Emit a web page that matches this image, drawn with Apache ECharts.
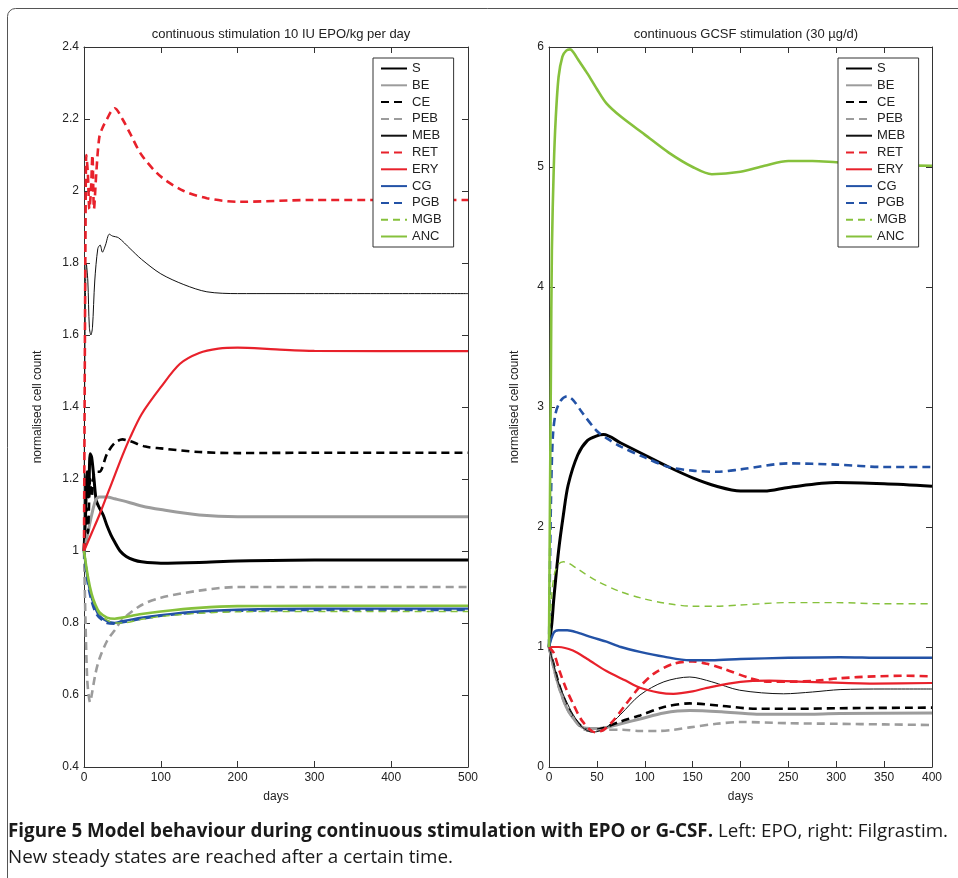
<!DOCTYPE html>
<html>
<head>
<meta charset="utf-8">
<script src="https://cdn.jsdelivr.net/npm/echarts@6/dist/echarts.min.js"></script>
<style>
html,body{margin:0;padding:0;background:#fff;}
#c{width:958px;height:878px;}
</style>
</head>
<body>
<div id="c"></div>
<script>
// ---------- DATA: left plot (EPO, days 0-500) ----------
const names = ['S','BE','CE','PEB','MEB','RET','ERY','CG','PGB','MGB','ANC'];
const epoTitle = 'continuous stimulation 10 IU EPO/kg per day';
const gcsfTitle = 'continuous GCSF stimulation (30 \u00b5g/d)';
const yName = 'normalised cell count';
const xName = 'days';

const EPO_S   = [[0,1.0],[2,1.1],[4,1.22],[6,1.15],[8,1.27],[10,1.26],[13,1.2],[16,1.14],[20,1.12],[25,1.1],[30,1.07],[35,1.045],[40,1.025],[47,1.0],[55,0.985],[65,0.975],[75,0.97],[100,0.966],[150,0.968],[200,0.972],[300,0.975],[500,0.975]];
const EPO_BE  = [[0,1.0],[5,1.05],[10,1.1],[15,1.14],[20,1.15],[30,1.15],[40,1.145],[50,1.14],[75,1.125],[100,1.115],[150,1.1],[200,1.095],[300,1.095],[500,1.095]];
const EPO_CE  = [[0,1.0],[3,1.12],[5,1.05],[8,1.2],[10,1.15],[14,1.22],[20,1.22],[30,1.27],[40,1.3],[50,1.31],[60,1.305],[80,1.29],[100,1.285],[150,1.275],[200,1.272],[300,1.273],[500,1.273]];
const EPO_PEB = [[0,1.0],[2,0.8],[4,0.65],[6,0.6],[8,0.58],[10,0.6],[15,0.66],[20,0.7],[30,0.75],[40,0.78],[50,0.81],[75,0.85],[100,0.87],[150,0.89],[200,0.9],[300,0.9],[500,0.9]];
const EPO_MEB = [[0,1.0],[1,1.5],[3,1.8],[5,1.75],[7,1.62],[9,1.6],[11,1.62],[14,1.75],[18,1.84],[21,1.85],[24,1.83],[28,1.85],[33,1.88],[37,1.875],[45,1.87],[60,1.84],[75,1.81],[100,1.77],[130,1.74],[160,1.72],[200,1.715],[300,1.715],[500,1.715]];
const EPO_RET = [[0,1.0],[1,1.5],[2,1.9],[3,2.1],[5,2.05],[7,1.95],[9,2.0],[11,2.1],[13,1.95],[16,2.05],[20,2.15],[25,2.18],[30,2.2],[35,2.22],[40,2.23],[50,2.2],[60,2.16],[75,2.1],[100,2.04],[130,2.0],[160,1.98],[200,1.97],[300,1.975],[500,1.975]];
const EPO_ERY = [[0,1.0],[10,1.05],[20,1.1],[30,1.155],[40,1.21],[50,1.265],[60,1.315],[75,1.38],[100,1.455],[125,1.52],[150,1.55],[175,1.562],[200,1.565],[250,1.56],[300,1.556],[500,1.555]];
const EPO_CG  = [[0,1.0],[5,0.92],[10,0.87],[15,0.84],[20,0.82],[30,0.805],[40,0.8],[50,0.805],[75,0.815],[100,0.822],[150,0.832],[200,0.837],[300,0.84],[500,0.84]];
const EPO_PGB = [[0,1.0],[5,0.91],[10,0.86],[15,0.83],[20,0.815],[30,0.8],[40,0.798],[50,0.802],[75,0.812],[100,0.82],[150,0.83],[200,0.834],[300,0.836],[500,0.836]];
const EPO_MGB = [[0,1.0],[5,0.925],[10,0.875],[15,0.845],[20,0.825],[30,0.808],[40,0.8],[50,0.8],[75,0.81],[100,0.818],[150,0.827],[200,0.831],[300,0.832],[500,0.832]];
const EPO_ANC = [[0,1.0],[5,0.93],[10,0.88],[15,0.85],[20,0.83],[30,0.815],[40,0.812],[50,0.815],[75,0.825],[100,0.832],[150,0.842],[200,0.847],[300,0.848],[500,0.848]];

// ---------- DATA: right plot (G-CSF, days 0-400) ----------
const GC_S   = [[0,1.0],[3,1.2],[5,1.4],[10,1.8],[15,2.1],[20,2.35],[30,2.6],[40,2.72],[50,2.76],[57,2.77],[75,2.7],[100,2.6],[125,2.5],[150,2.41],[175,2.34],[200,2.3],[225,2.3],[250,2.33],[300,2.37],[350,2.36],[400,2.34]];
const GC_BE  = [[0,1.0],[5,0.83],[10,0.68],[18,0.5],[25,0.41],[35,0.33],[46,0.32],[60,0.33],[75,0.36],[95,0.4],[120,0.45],[147,0.47],[180,0.46],[217,0.44],[260,0.44],[304,0.445],[400,0.45]];
const GC_CE  = [[0,1.0],[5,0.85],[10,0.7],[18,0.52],[25,0.42],[35,0.33],[43,0.3],[55,0.32],[75,0.38],[95,0.43],[120,0.5],[147,0.53],[180,0.51],[217,0.485],[260,0.485],[304,0.49],[400,0.495]];
const GC_PEB = [[0,1.0],[5,0.82],[10,0.67],[18,0.5],[25,0.41],[35,0.32],[48,0.3],[60,0.31],[77,0.31],[95,0.3],[113,0.3],[130,0.31],[147,0.33],[175,0.36],[199,0.375],[250,0.365],[300,0.36],[350,0.355],[400,0.35]];
const GC_MEB = [[0,1.0],[5,0.85],[10,0.7],[18,0.55],[25,0.44],[35,0.33],[46,0.29],[60,0.33],[75,0.44],[95,0.6],[120,0.71],[147,0.75],[170,0.71],[199,0.64],[245,0.61],[275,0.625],[304,0.645],[350,0.65],[400,0.65]];
const GC_RET = [[0,1.0],[5,0.95],[11,0.8],[18,0.65],[25,0.53],[35,0.38],[48,0.29],[57,0.31],[67,0.385],[80,0.52],[95,0.67],[110,0.78],[130,0.86],[150,0.88],[165,0.86],[182,0.82],[210,0.74],[230,0.71],[252,0.71],[280,0.72],[304,0.74],[340,0.755],[374,0.76],[400,0.755]];
const GC_ERY = [[0,1.0],[10,1.0],[25,0.97],[40,0.9],[60,0.8],[80,0.72],[95,0.66],[115,0.62],[130,0.61],[150,0.63],[165,0.66],[200,0.71],[230,0.72],[270,0.71],[339,0.695],[400,0.7]];
const GC_CG  = [[0,1.0],[5,1.12],[10,1.14],[19,1.14],[30,1.12],[45,1.08],[60,1.045],[75,1.0],[95,0.96],[120,0.92],[147,0.89],[170,0.89],[200,0.9],[250,0.91],[304,0.915],[350,0.91],[400,0.91]];
const GC_PGB = [[0,1.0],[2,2.2],[4,2.75],[7,2.95],[12,3.05],[19,3.09],[25,3.06],[35,2.95],[50,2.8],[60,2.74],[75,2.67],[100,2.58],[125,2.5],[150,2.47],[175,2.46],[200,2.48],[250,2.53],[300,2.52],[350,2.5],[400,2.5]];
const GC_MGB = [[0,1.0],[3,1.45],[6,1.62],[10,1.69],[15,1.71],[20,1.7],[30,1.65],[50,1.55],[75,1.46],[100,1.4],[125,1.36],[150,1.34],[175,1.34],[200,1.35],[250,1.37],[300,1.37],[350,1.36],[400,1.36]];
const GC_ANC = [[0,1.0],[1,2.2],[2,3.3],[3,4.3],[5,5.0],[7,5.4],[10,5.75],[14,5.92],[18,5.97],[22,5.98],[26,5.95],[30,5.9],[40,5.78],[50,5.65],[60,5.53],[75,5.42],[100,5.27],[125,5.12],[150,5.0],[170,4.94],[200,4.96],[225,5.01],[250,5.05],[275,5.05],[300,5.04],[350,5.02],[400,5.01]];

const epoData = [EPO_S,EPO_BE,EPO_CE,EPO_PEB,EPO_MEB,EPO_RET,EPO_ERY,EPO_CG,EPO_PGB,EPO_MGB,EPO_ANC];
const gcData  = [GC_S,GC_BE,GC_CE,GC_PEB,GC_MEB,GC_RET,GC_ERY,GC_CG,GC_PGB,GC_MGB,GC_ANC];

// ---------- STYLES ----------
const RED='#e8212b', BLUE='#2352a6', GREEN='#86c13c', GRAY='#9c9c9c';
const styles = {
  S:   {color:'#000', width:3,   type:'solid'},
  BE:  {color:GRAY,   width:3,   type:'solid'},
  CE:  {color:'#000', width:2.6, type:[8,5]},
  PEB: {color:GRAY,   width:2.6, type:[8,5]},
  MEB: {color:'#111', width:1,   type:'solid'},
  RET: {color:RED,    width:2.6, type:[8,5]},
  ERY: {color:RED,    width:2.2, type:'solid'},
  CG:  {color:BLUE,   width:2.4, type:'solid'},
  PGB: {color:BLUE,   width:2.6, type:[8,5]},
  MGB: {color:GREEN,  width:1.4, type:[7,5]},
  ANC: {color:GREEN,  width:2.6, type:'solid'}
};

const FONT = '"Liberation Sans", Arial, Helvetica, sans-serif';
const CAPFONT = '"Open Sans", "Noto Sans", sans-serif';
const AX = '#333';

function fmt(v){ return String(parseFloat(Number(v).toFixed(2))); }

function axisPair(gridIndex, min, max, interval, isX, name, nameGap){
  const common = {
    gridIndex, min, max, interval, type:'value',
    axisLine:{show:true, onZero:false, lineStyle:{color:AX, width:1}},
    axisTick:{show:true, inside:true, length:6, lineStyle:{color:AX}},
    splitLine:{show:false},
  };
  const a = Object.assign({}, common, {
    position: isX ? 'bottom' : 'left',
    axisLabel:{show:true, color:'#222', fontSize:12, fontFamily:FONT, margin:5, formatter:fmt},
    name: name, nameLocation:'middle', nameGap: nameGap,
    nameTextStyle:{color:'#222', fontSize:12, fontFamily:FONT}
  });
  const b = Object.assign({}, common, {
    position: isX ? 'top' : 'right',
    axisLabel:{show:false}
  });
  return [a,b];
}

const xAxes = [].concat(
  axisPair(0,0,500,100,true,xName,24),
  axisPair(1,0,400,50,true,xName,24)
);
const yAxes = [].concat(
  axisPair(0,0.4,2.4,0.2,false,yName,40),
  axisPair(1,0,6,1,false,yName,28)
);

function mkSeries(dataArr, xi, yi){
  return names.map((n,i)=>({
    name:n, type:'line', data:dataArr[i],
    xAxisIndex:xi, yAxisIndex:yi,
    showSymbol:false, symbol:'none', smooth:0.3,
    lineStyle:{color:styles[n].color, width:styles[n].width, type:styles[n].type},
    itemStyle:{color:styles[n].color},
    emphasis:{disabled:true}, animation:false, z:2+i
  }));
}

const series = [].concat(mkSeries(epoData,0,0), mkSeries(gcData,2,2));

function legend(left){
  return {
    data:names, orient:'vertical', left:left, top:58,
    itemWidth:26, itemHeight:12, itemGap:3.8,
    padding:[4,12,4,7],
    backgroundColor:'#fff', borderColor:'#333', borderWidth:1,
    itemStyle:{opacity:0, borderWidth:0},
    textStyle:{color:'#222', fontSize:13, lineHeight:12, fontFamily:FONT},
    selectedMode:false, z:20
  };
}

const option = {
  backgroundColor:'#fff',
  animation:false,
  title:[
    {text:epoTitle, left:276, top:23, textAlign:'center', textStyle:{fontSize:13, fontWeight:'normal', color:'#222', fontFamily:FONT}},
    {text:gcsfTitle, left:741, top:23, textAlign:'center', textStyle:{fontSize:13, fontWeight:'normal', color:'#222', fontFamily:FONT}}
  ],
  grid:[
    {left:84, top:47, width:384, height:720, show:false},
    {left:549, top:47, width:383, height:720, show:false}
  ],
  legend:[legend(373), legend(838)],
  xAxis:xAxes,
  yAxis:yAxes,
  series:series,
  graphic:[
    {type:'rect', shape:{x:7.5, y:8.5, width:1000, height:1000, r:8}, style:{fill:'none', stroke:'#555', lineWidth:1}, silent:true, z:0},
    {type:'text', left:8, top:822, style:{
      text:'{b|Figure 5 Model behaviour during continuous stimulation with EPO or G-CSF.}{r| Left: EPO, right: Filgrastim.}\n{r|New steady states are reached after a certain time.}',
      rich:{
        b:{fontSize:18.8, fontWeight:'bold', fontFamily:CAPFONT, fill:'#1a1a1a', lineHeight:26},
        r:{fontSize:18.8, fontWeight:'normal', fontFamily:CAPFONT, fill:'#1a1a1a', lineHeight:26}
      }
    }}
  ]
};

const chart = echarts.init(document.getElementById('c'), null, {renderer:'canvas'});
chart.setOption(option);
</script>
</body>
</html>
